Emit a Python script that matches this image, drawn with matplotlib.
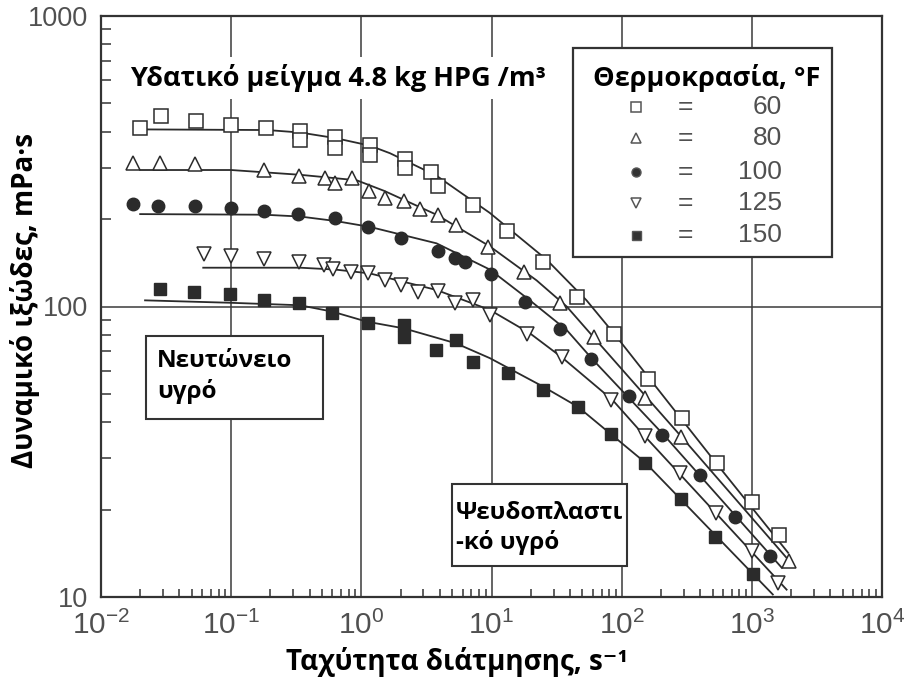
import matplotlib
matplotlib.use('Agg')
import matplotlib.pyplot as plt
from matplotlib.patches import Rectangle
from matplotlib.ticker import LogLocator, FixedLocator, FuncFormatter, NullFormatter

plt.rcParams['font.family'] = ['Liberation Sans', 'DejaVu Sans']

# ---------------- data ----------------
temps = ['60', '80', '100', '125', '150']

x_60 = [0.020, 0.029, 0.054, 0.099, 0.185, 0.336, 0.336, 0.625, 0.625, 1.16, 1.16, 2.15, 2.15,
        3.45, 3.88, 7.2, 13.1, 24.8, 45.2, 88, 158, 291, 537, 1000, 1620]
y_60 = [413, 451, 436, 422, 413, 403, 375, 382, 351, 361, 332, 323, 300,
        291, 259, 224, 182, 142, 108, 80.7, 56.5, 41.2, 29.0, 21.2, 16.4]

x_80 = [0.0177, 0.0284, 0.053, 0.18, 0.333, 0.524, 0.625, 0.853, 1.15, 1.51, 2.11, 2.8, 3.88,
        5.3, 9.4, 17.9, 33.3, 61, 150, 286, 1915]
y_80 = [312, 312, 310, 294, 281, 276, 267, 277, 250, 236, 231, 216, 207,
        191, 160, 131, 103, 78.5, 48.3, 35.6, 13.3]

x_100 = [0.0177, 0.0276, 0.0526, 0.1, 0.18, 0.327, 0.625, 1.13, 2.03, 3.88, 5.2, 6.3, 9.95,
         18.2, 33.3, 57.8, 113, 204, 397, 738, 1370]
y_100 = [225, 222, 222, 218, 213, 208, 201, 188, 172, 155, 147, 142, 129,
         104, 83.9, 65.7, 49.2, 36.2, 26.2, 18.9, 13.8]

x_125 = [0.0616, 0.099, 0.18, 0.333, 0.517, 0.607, 0.84, 1.13, 1.51, 2.03, 2.72, 3.88, 5.2,
         7.2, 9.7, 18.7, 34.8, 83.5, 152, 280, 534, 1006, 1590]
y_125 = [152, 149, 146, 142, 139, 135, 131, 130, 123, 119, 112, 113.5, 102.5,
         105, 93.7, 80.7, 67.2, 47.5, 35.7, 26.7, 19.5, 14.4, 11.2]

x_150 = [0.0284, 0.0518, 0.0977, 0.178, 0.33, 0.6, 1.13, 2.11, 2.11, 3.77, 5.3, 7.2, 13.4,
         24.8, 46, 82.8, 152, 288, 525, 1012]
y_150 = [115, 112, 110, 105, 103, 95, 87.7, 86.1, 78.5, 70.7, 76.9, 64.4, 59,
         51.5, 45, 36.5, 29.0, 21.7, 16.1, 12.0]

# fitted curves
cx_60 = [0.021, 0.19, 0.34, 0.63, 1.16, 1.66, 3.78, 9.7, 26.5, 53.7, 88.7, 535, 1900]
cy_60 = [407, 405, 397, 380, 358, 337, 282, 210, 145, 105, 80, 28.8, 14.2]

cx_80 = [0.020, 0.10, 0.34, 0.92, 1.5, 3.78, 9.72, 22.2, 37.8, 60.4, 288, 2000]
cy_80 = [295, 295, 284, 272, 250, 207, 161, 123, 100, 78.7, 35.6, 13.1]

cx_100 = [0.020, 0.18, 0.34, 0.63, 1.16, 3.78, 9.72, 19.7, 37.8, 59.7, 211, 1700]
cy_100 = [208, 207, 204, 197, 188, 165, 134, 105, 83, 65.8, 36.1, 12.6]

cx_125 = [0.061, 0.34, 0.63, 1.16, 3.78, 9.72, 19.7, 35.2, 85.3, 152, 1850]
cy_125 = [136, 136, 134, 130, 114, 97.3, 80.9, 66.5, 47.6, 35.6, 10.6]

cx_150 = [0.0218, 0.098, 0.337, 0.6, 1.10, 2.12, 5.33, 9.72, 24.9, 46, 152, 1450]
cy_150 = [105, 103, 101, 96, 88.7, 84.1, 74.7, 66.4, 53.0, 45.2, 29.0, 10.2]

series = [(x_60, y_60, cx_60, cy_60), (x_80, y_80, cx_80, cy_80), (x_100, y_100, cx_100, cy_100),
          (x_125, y_125, cx_125, cy_125), (x_150, y_150, cx_150, cy_150)]

# ---------------- styles ----------------
dark = '#2b2b2b'
mstyles = [dict(marker='s', mfc='white', mec=dark, ms=10, mew=1.1),
           dict(marker='^', mfc='white', mec=dark, ms=10.5, mew=1.1),
           dict(marker='o', mfc=dark, mec=dark, ms=9, mew=1.0),
           dict(marker='v', mfc='white', mec=dark, ms=10.5, mew=1.1),
           dict(marker='s', mfc=dark, mec=dark, ms=9, mew=1.0)]

fig = plt.figure(figsize=(9.11, 6.93), dpi=100)
ax = fig.add_axes([101 / 911, 1 - 597 / 693, 781 / 911, 581 / 693])
ax.set_xscale('log')
ax.set_yscale('log')
ax.set_xlim(1e-2, 1e4)
ax.set_ylim(10, 1000)

for (xs, ys, cx, cy), st in zip(series, mstyles):
    ax.plot(cx, cy, '-', color=dark, lw=1.3, zorder=3)
    ax.plot(xs, ys, ls='none', zorder=4, **st)

# grid
ax.grid(True, which='major', color='#3a3a3a', lw=1.1)
ax.set_axisbelow(True)
for sp in ax.spines.values():
    sp.set_color('#333333')
    sp.set_linewidth(1.6)

ax.yaxis.set_major_locator(FixedLocator([10, 100, 1000]))
ax.yaxis.set_major_formatter(FuncFormatter(lambda v, p: f'{v:g}'))
ax.yaxis.set_minor_locator(LogLocator(base=10, subs=range(2, 10)))
ax.yaxis.set_minor_formatter(NullFormatter())
ax.xaxis.set_major_locator(FixedLocator([1e-2, 1e-1, 1e0, 1e1, 1e2, 1e3, 1e4]))
ax.xaxis.set_minor_locator(LogLocator(base=10, subs=range(2, 10), numticks=20))
ax.xaxis.set_minor_formatter(NullFormatter())
ax.tick_params(which='both', direction='in', color='#333333', width=1.1,
               labelsize=19.5, labelcolor='#505050')
ax.tick_params(which='major', length=0)
ax.tick_params(axis='y', which='major', pad=9)
ax.tick_params(axis='x', which='major', pad=10, labelsize=21.5)
ax.tick_params(axis='y', which='minor', length=7)
ax.tick_params(axis='x', which='minor', length=6)

bold_fam = ['Open Sans', 'DejaVu Sans']

# title text with white background
ax.text(0.037, 0.893, 'Υδατικό μείγμα 4.8 kg HPG /m³', transform=ax.transAxes,
        fontsize=19.5, fontweight='bold', family=bold_fam, color='black', va='center', ha='left',
        bbox=dict(facecolor='white', edgecolor='none', pad=5), zorder=6)

# boxes with annotations
ax.add_patch(Rectangle((0.0572, 0.3064), 0.2271, 0.1428, transform=ax.transAxes,
                       facecolor='white', edgecolor='#333333', lw=1.5, zorder=6))
ax.text(0.0717, 0.3795, 'Νευτώνειο\nυγρό', transform=ax.transAxes, fontsize=17.5,
        fontweight='bold', family=bold_fam, va='center', ha='left', linespacing=1.3, zorder=7)

ax.add_patch(Rectangle((0.4494, 0.0534), 0.2241, 0.1411, transform=ax.transAxes,
                       facecolor='white', edgecolor='#333333', lw=1.5, zorder=6))
ax.text(0.4545, 0.1188, 'Ψευδοπλαστι\n-κό υγρό', transform=ax.transAxes, fontsize=17.5,
        fontweight='bold', family=bold_fam, va='center', ha='left', linespacing=1.3, zorder=7)

# legend box
ax.add_patch(Rectangle((0.604, 0.585), 0.332, 0.360, transform=ax.transAxes,
                       facecolor='white', edgecolor='#333333', lw=1.6, zorder=6))
ax.text(0.775, 0.893, 'Θερμοκρασία, °F', transform=ax.transAxes, fontsize=19.5,
        fontweight='bold', family=bold_fam, va='center', ha='center', zorder=7)
row_y = [0.843, 0.790, 0.731, 0.678, 0.623]
for t, st, yy in zip(temps, mstyles, row_y):
    st2 = dict(st)
    st2['ms'] = st['ms'] * 0.72
    st2['mec'] = '#555555'
    if st['mfc'] != 'white':
        st2['mfc'] = '#333333'
    ax.plot([0.685], [yy], transform=ax.transAxes, ls='none', zorder=8, clip_on=False, **st2)
    ax.text(0.748, yy, '=', transform=ax.transAxes, fontsize=19, color='#505050',
            va='center', ha='center', zorder=8)
    ax.text(0.872, yy, t, transform=ax.transAxes, fontsize=19, color='#505050',
            va='center', ha='right', zorder=8)

# axis labels
fig.text(0.0274, 0.567, 'Δυναμικό ιξώδες, mPa·s', rotation=90, fontsize=20,
         fontweight='bold', family=bold_fam, va='center', ha='center')
fig.text(0.5016, 0.045, 'Ταχύτητα διάτμησης, s⁻¹', fontsize=20,
         fontweight='bold', family=bold_fam, va='center', ha='center')

fig.savefig('out.png', dpi=100, facecolor='white')
